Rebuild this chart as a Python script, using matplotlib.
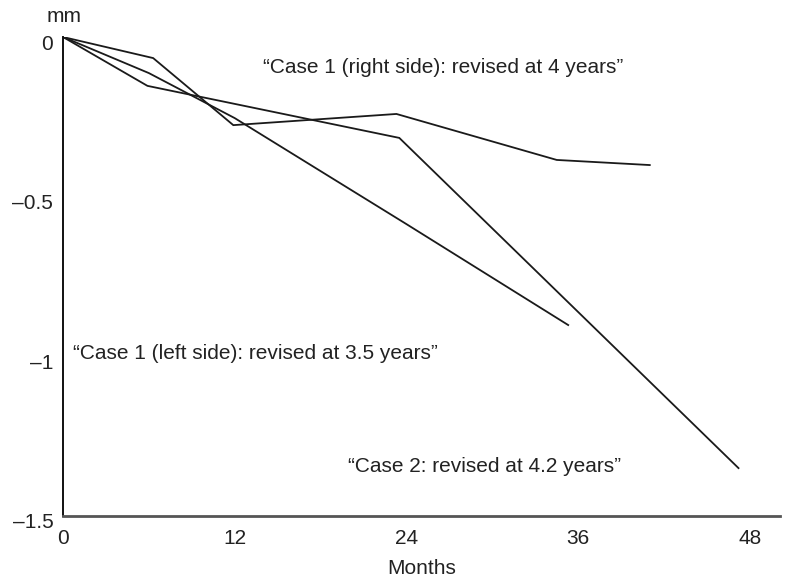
import matplotlib.pyplot as plt
import matplotlib.transforms as mtransforms

plt.rcParams['font.family'] = ['Liberation Sans', 'DejaVu Sans']

# months / displacement (mm)
months_right = [0, 6.3, 11.9, 23.3, 34.5, 41.0]
mm_right = [0, -0.066, -0.276, -0.241, -0.385, -0.401]

months_case2 = [0, 5.9, 23.5, 47.2]
mm_case2 = [0, -0.153, -0.316, -1.35]

months_left = [0, 6, 12, 24, 35.3]
mm_left = [0, -0.113, -0.254, -0.586, -0.902]

x_ticks = [0, 12, 24, 36, 48]
y_ticks = [0, -0.5, -1, -1.5]
y_tick_labels = ["0", "\u20130.5", "\u20131", "\u20131.5"]

notes = [
    (14.0, -0.094, "\u201cCase 1 (right side): revised at 4 years\u201d"),
    (0.7, -0.99, "\u201cCase 1 (left side): revised at 3.5 years\u201d"),
    (19.9, -1.346, "\u201cCase 2: revised at 4.2 years\u201d"),
]

FS = 15

fig = plt.figure(figsize=(7.91, 5.79), dpi=100)
ax = fig.add_axes([63 / 791, 63 / 579, 717 / 791, 479 / 579])

for xs, ys in [(months_right, mm_right), (months_case2, mm_case2), (months_left, mm_left)]:
    ax.plot(xs, ys, color='#1a1a1a', lw=1.3, solid_joinstyle='miter')

ax.set_xlim(0, 50.1)
ax.set_ylim(-1.5, 0)

ax.spines['top'].set_visible(False)
ax.spines['right'].set_visible(False)
ax.spines['left'].set_color('#111111')
ax.spines['left'].set_linewidth(1.4)
ax.spines['bottom'].set_color('#555555')
ax.spines['bottom'].set_linewidth(2.0)

ax.set_xticks(x_ticks)
ax.set_xticklabels([str(t) for t in x_ticks])
ax.set_yticks(y_ticks)
ax.set_yticklabels(y_tick_labels)
ax.tick_params(axis='both', length=0, labelsize=FS, colors='#222222')
ax.tick_params(axis='x', pad=9)
ax.tick_params(axis='y', pad=7)

# y labels sit a little below their levels in the original
shift = mtransforms.ScaledTranslation(0, -5 / 100, fig.dpi_scale_trans)
for lab in ax.get_yticklabels():
    lab.set_transform(lab.get_transform() + shift)

ax.set_xlabel("Months", fontsize=FS, color='#222222', labelpad=8)
fig.text(64 / 791, 1 - 17 / 579, "mm", fontsize=FS, color='#222222', ha='center', va='center')

for x, y, s in notes:
    ax.text(x, y, s, fontsize=FS, color='#222222', ha='left', va='center')

fig.savefig("out.png", dpi=100)
